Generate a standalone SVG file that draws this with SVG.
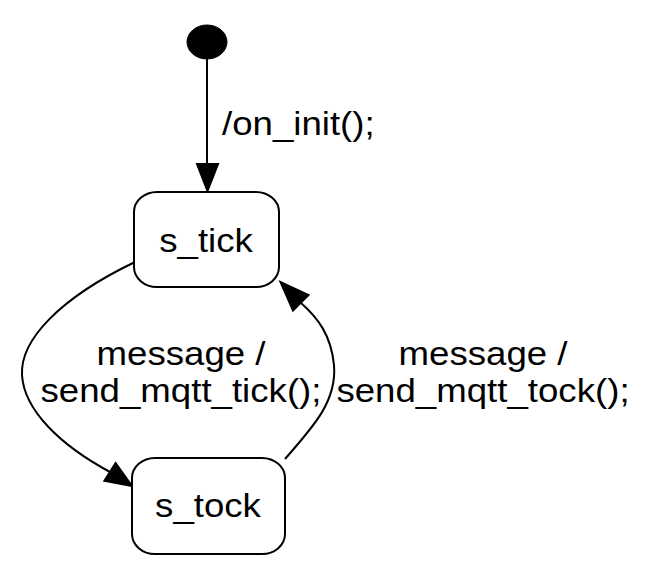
<svg xmlns="http://www.w3.org/2000/svg" width="648" height="574" viewBox="0 0 648 574">
<style>
  .node { fill: #ffffff; stroke: #000000; stroke-width: 2; }
  .edge { fill: none; stroke: #000000; stroke-width: 2; }
  .head { fill: #000000; stroke: #000000; stroke-width: 2; stroke-linejoin: miter; }
  text { font-family: "Liberation Sans", Arial, Helvetica, sans-serif; font-size: 33px; fill: #000000; }
</style>
<rect width="648" height="574" fill="#ffffff"/>
<g id="connectors">
  <g id="edge_init">
    <line class="edge" x1="207" y1="59" x2="207" y2="164"/>
    <polygon class="head" points="197,164 218,164 207.5,191"/>
    <text transform="translate(222,135) scale(1.11,1)">/on_init();</text>
  </g>
  <g id="edge_tick_tock">
    <path class="edge" d="M135,262 C60,298 20,340 22,375 C24,410 60,445 110,472"/>
    <polygon class="head" points="104.4,480.9 115.6,463.1 132,486"/>
    <text text-anchor="middle" transform="translate(181,365) scale(1.11,1)">message /</text>
    <text text-anchor="middle" transform="translate(181,402) scale(1.11,1)">send_mqtt_tick();</text>
  </g>
  <g id="edge_tock_tick">
    <path class="edge" d="M285,459 C315,425 337,400 334,365 C331,335 318,318 301,303"/>
    <polygon class="head" points="293,310.5 308.5,295 280.5,282"/>
    <text text-anchor="middle" transform="translate(483,365) scale(1.11,1)">message /</text>
    <text text-anchor="middle" transform="translate(483,402) scale(1.11,1)">send_mqtt_tock();</text>
  </g>
</g>
<g id="initial">
  <ellipse cx="207" cy="42" rx="20" ry="17" fill="#000000" stroke="#000000" stroke-width="1"/>
</g>
<g id="s_tick">
  <rect class="node" x="134" y="192" width="145" height="95" rx="23" ry="20"/>
  <text text-anchor="middle" transform="translate(206,252) scale(1.11,1)">s_tick</text>
</g>
<g id="s_tock">
  <rect class="node" x="132" y="458" width="153" height="96" rx="23" ry="20"/>
  <text text-anchor="middle" transform="translate(208,517) scale(1.11,1)">s_tock</text>
</g>
</svg>
